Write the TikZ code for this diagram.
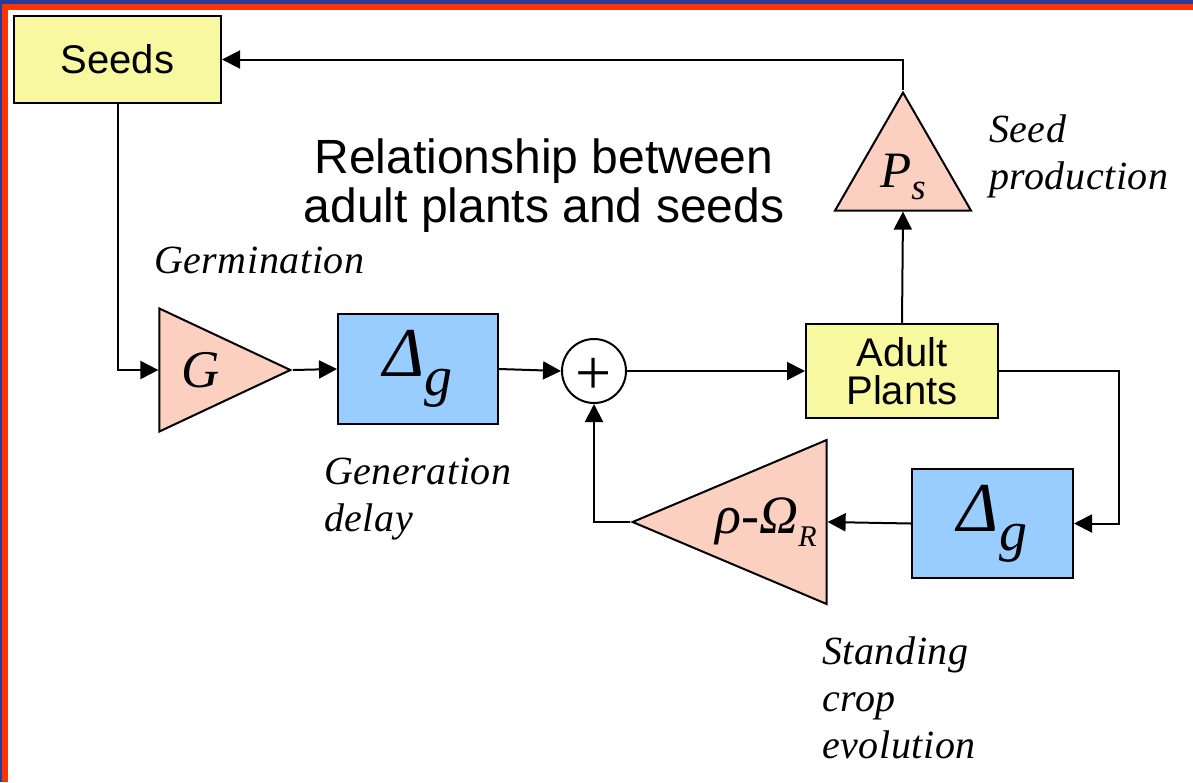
\documentclass[tikz,border=0pt]{standalone}
\usepackage{fontspec}
\setmainfont{Liberation Serif}
\setsansfont{Liberation Sans}
\newfontfamily\labelfont[LetterSpace=1.5]{Liberation Serif}
\usetikzlibrary{arrows.meta,shapes.geometric}
\definecolor{seedyellow}{HTML}{F8F8A0}
\definecolor{gainpink}{HTML}{FBD0C0}
\definecolor{delayblue}{HTML}{99CCFF}
\definecolor{bandblue}{HTML}{2A3C96}
\definecolor{bandred}{HTML}{FF3300}
\newcommand\delaysym{{\fontsize{35}{36}\selectfont\itshape Δ\raisebox{-9.5pt}{\fontsize{28}{30}\selectfont g}}}

\begin{document}
\begin{tikzpicture}[x=0.5pt,y=-0.5pt,>={Triangle[length=9pt,width=9pt]},line width=1pt,
  stockbox/.style={draw,fill=seedyellow,inner sep=0,font=\sffamily\fontsize{20}{19}\selectfont,align=center},
  delaybox/.style={draw,fill=delayblue,inner sep=0,minimum width=80pt,minimum height=55pt},
  gaintri/.style={draw,fill=gainpink,isosceles triangle,isosceles triangle stretches,inner sep=0},
  labeltext/.style={font=\labelfont\itshape\fontsize{20}{23.5}\selectfont,align=left,inner sep=0,anchor=base west}]
  \useasboundingbox (0,0) rectangle (1193,782);
  % Frame
  \fill[bandblue] (0,0) rectangle (1193,4);
  \fill[bandblue] (0,0) rectangle (2,782);
  \fill[bandred] (2,4) rectangle (1193,10);
  \fill[bandred] (2,4) rectangle (8,782);

  % Nodes
  \node[stockbox,minimum width=103.5pt,minimum height=43.5pt] (Seeds) at (117.5,59.5) {Seeds};
  \node[gaintri,minimum width=61.5pt,minimum height=65.5pt,anchor=apex] (G) at (293,370)
    {\fontsize{26.5}{28}\selectfont\itshape\hspace{4pt}G};
  \node[delaybox] (Dg1) at (418,369) {\delaysym};
  \node[draw,circle,minimum size=32pt,inner sep=0] (Sum) at (594,371)
    {\fontsize{32}{32}\selectfont\raisebox{-11.5pt}[0pt][0pt]{+}};
  \node[stockbox,minimum width=96pt,minimum height=47pt] (Adult) at (902,371) {Adult\\Plants};
  \node[gaintri,shape border rotate=90,minimum width=68pt,minimum height=59pt,anchor=apex] (Ps) at (903,90)
    {\fontsize{25.5}{27}\selectfont\itshape P\raisebox{-6pt}{\fontsize{18.5}{20}\selectfont s}};
  \node[delaybox,minimum width=80.5pt,minimum height=54.5pt] (Dg2) at (992.5,523.5) {\delaysym};
  \node[gaintri,shape border rotate=180,minimum width=82pt,minimum height=97pt,anchor=apex] (Rho) at (630,522)
    {\fontsize{27}{28}\selectfont\itshape ρ-Ω\raisebox{-6.5pt}{\fontsize{15}{16}\selectfont R}};

  % Labels
  \node[font=\sffamily\fontsize{24}{24.5}\selectfont,align=center] (title) at (544,186)
    {Relationship between\\adult plants and seeds};
  \node[labeltext] (germ) at (153,273) {Germination};
  \node[labeltext] (seedprod) at (988,189) {Seed\\production};
  \node[labeltext] (gendelay) at (323,531) {Generation\\delay};
  \node[labeltext] (standing) at (821,758) {Standing\\crop\\evolution};

  % Arrows
  \draw[->] (Ps.apex) |- (Seeds.east);
  \draw[->] (Seeds.south) |- (G.lower side);
  \draw[->] (G.apex) -- (Dg1.west);
  \draw[->] (Dg1.east) -- (Sum.west);
  \draw[->] (Sum.east) -- (Adult.west);
  \draw[->] (Adult.north) -- (Ps.lower side);
  \draw[->] (Adult.east) -- ++(120,0) |- (Dg2.east);
  \draw[->] (Dg2.west) -- (Rho.lower side);
  \draw[->] (Rho.apex) -| (Sum.south);
\end{tikzpicture}
\end{document}
